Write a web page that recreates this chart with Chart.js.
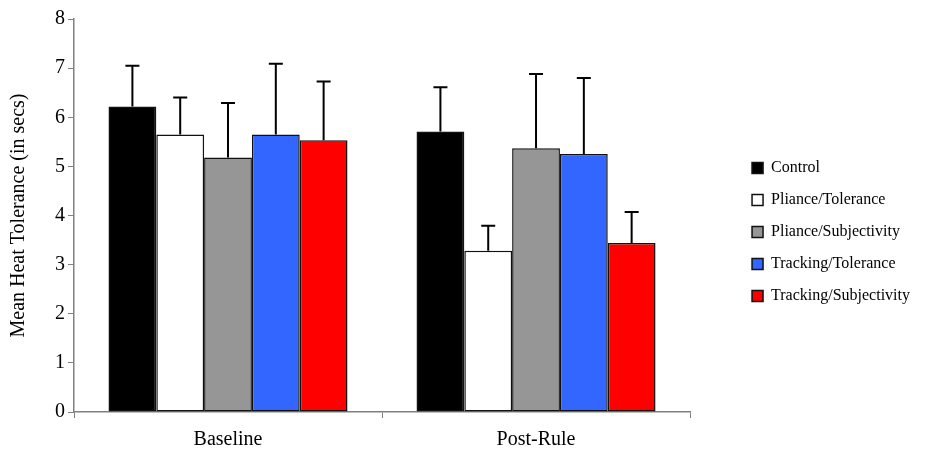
<!DOCTYPE html>
<html>
<head>
<meta charset="utf-8">
<script src="https://cdn.jsdelivr.net/npm/chart.js@4"></script>
<style>
  body { margin: 0; background: #fff; }
  #wrap { width: 936px; height: 455px; }
</style>
</head>
<body>
<div id="wrap"><canvas id="heatChart"></canvas></div>
<script>
const categories = ['Baseline', 'Post-Rule'];
const seriesNames = ['Control', 'Pliance/Tolerance', 'Pliance/Subjectivity', 'Tracking/Tolerance', 'Tracking/Subjectivity'];
const seriesColors = ['#000000', '#ffffff', '#969696', '#3366ff', '#ff0000'];

// means per group
const control = [6.22, 5.71];
const plianceTol = [5.65, 3.28];
const plianceSubj = [5.18, 5.37];
const trackingTol = [5.65, 5.25];
const trackingSubj = [5.53, 3.44];

// upper error bar lengths
const controlErr = [0.83, 0.90];
const plianceTolErr = [0.75, 0.51];
const plianceSubjErr = [1.11, 1.51];
const trackingTolErr = [1.44, 1.55];
const trackingSubjErr = [1.20, 0.63];

const yTicks = [0, 1, 2, 3, 4, 5, 6, 7, 8];

const means = [control, plianceTol, plianceSubj, trackingTol, trackingSubj];
const errs = [controlErr, plianceTolErr, plianceSubjErr, trackingTolErr, trackingSubjErr];

const serif = "'Liberation Serif', 'Times New Roman', serif";
const legendShift = 46;
const legendLift = 4;

//draws the SD whiskers on top of each bar
const errorBars = {
    id: 'errorBars',
    afterDatasetsDraw(chart) {
        const ctx = chart.ctx;
        const yScale = chart.scales.y;
        ctx.save();
        ctx.strokeStyle = '#000';
        ctx.lineWidth = 2;
        chart.data.datasets.forEach((ds, i) => {
            const meta = chart.getDatasetMeta(i);
            meta.data.forEach((bar, j) => {
                const top = yScale.getPixelForValue(ds.data[j] + ds.errors[j]);
                ctx.beginPath();
                ctx.moveTo(bar.x, bar.y);
                ctx.lineTo(bar.x, top);
                ctx.moveTo(bar.x - 7, top);
                ctx.lineTo(bar.x + 7, top);
                ctx.stroke();
            });
        });
        ctx.restore();
    }
};

//push the legend into the right padding so there is a gap after the plot
const legendGap = {
    id: 'legendGap',
    afterLayout(chart) {
        const lg = chart.legend;
        if (lg) {
            lg.left += legendShift;
            lg.right += legendShift;
            lg.top -= legendLift;
            lg.bottom -= legendLift;
        }
    }
};

const datasets = seriesNames.map((name, i) => ({
    label: name,
    data: means[i],
    errors: errs[i],
    backgroundColor: seriesColors[i],
    borderColor: '#111',
    borderWidth: 1.5,
    borderSkipped: false
}));

new Chart(document.getElementById('heatChart'), {
    type: 'bar',
    data: { labels: categories, datasets: datasets },
    plugins: [errorBars, legendGap],
    options: {
        responsive: true,
        maintainAspectRatio: false,
        animation: false,
        layout: { padding: { top: 19, left: 5, right: 16 + legendShift, bottom: 2 } },
        datasets: {
            bar: { categoryPercentage: 0.776, barPercentage: 1.0 }
        },
        plugins: {
            tooltip: { enabled: false },
            legend: {
                position: 'right',
                labels: {
                    boxWidth: 11,
                    boxHeight: 11,
                    padding: 16,
                    color: '#000',
                    font: { family: serif, size: 16 }
                }
            }
        },
        scales: {
            x: {
                offset: true,
                afterFit: axis => { axis.height = 41; },
                grid: {
                    offset: true,
                    drawOnChartArea: false,
                    tickLength: 6,
                    color: '#808080'
                },
                border: { color: '#808080', width: 1.5 },
                ticks: {
                    color: '#000',
                    padding: 10,
                    font: { family: serif, size: 20 }
                }
            },
            y: {
                min: 0,
                max: 8,
                afterBuildTicks: axis => { axis.ticks = yTicks.map(v => ({ value: v })); },
                afterFit: axis => { axis.width = 69; },
                grid: {
                    drawOnChartArea: false,
                    tickLength: 6,
                    color: '#808080'
                },
                border: { color: '#808080', width: 1.5 },
                ticks: {
                    color: '#000',
                    padding: 3,
                    font: { family: serif, size: 20 }
                },
                title: {
                    display: true,
                    text: 'Mean Heat Tolerance (in secs)',
                    color: '#000',
                    padding: { top: 2, bottom: 0 },
                    font: { family: serif, size: 20 }
                }
            }
        }
    }
});
</script>
</body>
</html>
